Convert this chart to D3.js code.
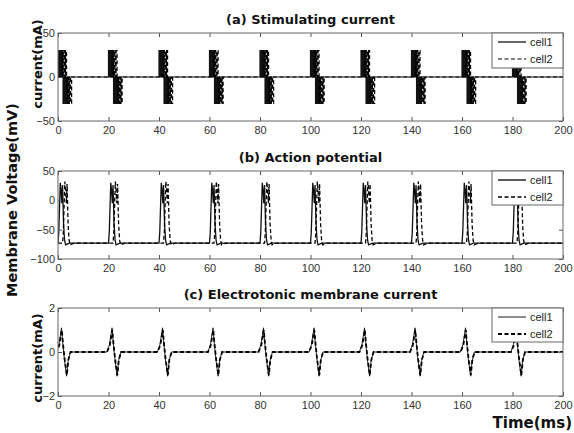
<!DOCTYPE html>
<html><head><meta charset="utf-8">
<script src="https://cdn.jsdelivr.net/npm/d3@7"></script>
<style>
html,body{margin:0;padding:0;background:#fff;}
svg{display:block;}
</style></head>
<body>
<svg id="c" width="574" height="433"></svg>
<script>
// ---------- data ----------
const onsets = [0, 20, 40, 60, 80, 100, 120, 140, 160, 180]; // ms, stimulus onset per beat
const xTicks = [0, 20, 40, 60, 80, 100, 120, 140, 160, 180, 200];
const seriesNames = ["cell1", "cell2"];

// (a) stimulating current pulse shape (time offset ms, current mA), step curve
const stimT1 = [0, 0.4, 0.5, 0.9, 1.0, 1.4, 1.5, 1.9, 2.0, 2.4, 2.5, 2.9, 3.0, 3.4, 3.5, 3.9, 4.0];
const stimV1 = [30, 0, 30, 0, 30, 0, 30, 0, -30, 0, -30, 0, -30, 0, -30, 0, 0];
const stimT2 = [1.5, 1.9, 2.0, 2.4, 2.5, 2.9, 3.0, 3.4, 3.5, 3.9, 4.0, 4.4, 4.5, 4.9, 5.0, 5.4, 5.5];
const stimV2 = [30, 0, 30, 0, 30, 0, 30, 0, -30, 0, -30, 0, -30, 0, -30, 0, 0];
const stimYTicks = [-50, 0, 50];

// (b) action potential shape (time offset ms, mV)
const restV = -73;
const apT1 = [0, 0.3, 0.9, 1.2, 1.5, 1.8, 2.2, 2.6, 3.0, 4.5];
const apV1 = [-73, -55, 30, 18, -5, 26, -40, -68, -76, -73];
const apT2 = [1.8, 2.1, 2.7, 3.0, 3.3, 3.6, 4.0, 4.4, 4.8, 6.3];
const apV2 = [-73, -55, 32, 18, -5, 28, -40, -68, -76, -73];
const apYTicks = [-100, -50, 0, 50];

// (c) electrotonic membrane current shape (time offset ms, mA)
const ecT1 = [-0.6, 0.4, 1.4, 1.9, 2.5, 3.4, 4.0, 4.9];
const ecV1 = [0, 0.35, 1.1, 0.4, -0.3, -1.1, -0.4, 0];
const ecT2 = [-0.6, 0.5, 1.5, 2.0, 2.6, 3.5, 4.1, 5.0];
const ecV2 = [0, 0.3, 1.0, 0.35, -0.3, -1.05, -0.35, 0];
const ecYTicks = [-2, 0, 2];

// ---------- build series ----------
function build(T, V, base) {
  const pts = [[0, base]];
  onsets.forEach(o => T.forEach((t, i) => pts.push([o + t, V[i]])));
  pts.push([200, base]);
  return pts;
}

const svg = d3.select("#c");
const x = d3.scaleLinear().domain([0, 200]).range([58, 563]);

const panels = [
  {title: "(a) Stimulating current", dom: [-50, 50], r: [121, 33], ticks: stimYTicks,
   s1: build(stimT1, stimV1, 0), s2: build(stimT2, stimV2, 0), curve: d3.curveStepAfter,
   w1: 1.2, w2: 1.2, leg: [33, 68]},
  {title: "(b) Action potential", dom: [-100, 50], r: [259, 171], ticks: apYTicks,
   s1: build(apT1, apV1, restV), s2: build(apT2, apV2, restV), curve: d3.curveLinear,
   w1: 1.3, w2: 1.3, leg: [171, 205]},
  {title: "(c) Electrotonic membrane current", dom: [-2, 2], r: [396, 308], ticks: ecYTicks,
   s1: build(ecT1, ecV1, 0), s2: build(ecT2, ecV2, 0), curve: d3.curveLinear,
   w1: 0.9, w2: 1.8, leg: [308, 342]}
];

const tickFont = "'Liberation Sans', Arial, sans-serif";
const boldFont = "'DejaVu Sans', sans-serif";

panels.forEach((p, k) => {
  const y = d3.scaleLinear().domain(p.dom).range(p.r);
  const g = svg.append("g");
  const top = p.r[1], bot = p.r[0];

  g.append("clipPath").attr("id", "clip" + k).append("rect")
    .attr("x", x(0)).attr("y", top).attr("width", x(200) - x(0)).attr("height", bot - top);

  // lines
  const line = d3.line().x(d => x(d[0])).y(d => y(d[1])).curve(p.curve);
  const lg = g.append("g").attr("clip-path", `url(#clip${k})`);
  lg.append("path").attr("d", line(p.s1)).attr("fill", "none")
    .attr("stroke", "#111").attr("stroke-width", p.w1);
  lg.append("path").attr("d", line(p.s2)).attr("fill", "none")
    .attr("stroke", "#000").attr("stroke-width", p.w2).attr("stroke-dasharray", "4,2.5");

  // axes
  const ax = (a) => a.tickSizeInner(-4).tickSizeOuter(0).tickPadding(5);
  const gb = g.append("g").attr("transform", `translate(0,${bot})`)
    .call(ax(d3.axisBottom(x).tickValues(xTicks).tickFormat(d3.format("d"))));
  const gt = g.append("g").attr("transform", `translate(0,${top})`)
    .call(ax(d3.axisTop(x).tickValues(xTicks).tickFormat("")));
  const gl = g.append("g").attr("transform", `translate(${x(0)},0)`)
    .call(ax(d3.axisLeft(y).tickValues(p.ticks).tickFormat(d3.format("d"))).tickPadding(3));
  const gr = g.append("g").attr("transform", `translate(${x(200)},0)`)
    .call(ax(d3.axisRight(y).tickValues(p.ticks).tickFormat("")));
  [gb, gt, gl, gr].forEach(a => {
    a.select(".domain").remove();
    a.selectAll(".tick line").attr("stroke", "#555");
    a.selectAll(".tick text").attr("font-family", tickFont).attr("font-size", 11).attr("fill", "#333");
  });
  g.append("rect").attr("x", x(0)).attr("y", top).attr("width", x(200) - x(0)).attr("height", bot - top)
    .attr("fill", "none").attr("stroke", "#666").attr("stroke-width", 1);

  // title
  g.append("text").attr("x", (x(0) + x(200)) / 2).attr("y", top - 9)
    .attr("text-anchor", "middle").attr("font-family", boldFont).attr("font-weight", "bold")
    .attr("font-size", 13).attr("fill", "#111").text(p.title);

  // legend
  const lx0 = 492, lx1 = x(200), ly0 = p.leg[0], ly1 = p.leg[1];
  const leg = g.append("g");
  leg.append("rect").attr("x", lx0).attr("y", ly0).attr("width", lx1 - lx0).attr("height", ly1 - ly0)
    .attr("fill", "#fff").attr("stroke", "#666").attr("stroke-width", 1);
  seriesNames.forEach((n, i) => {
    const yy = ly0 + 9 + i * 17;
    leg.append("line").attr("x1", 498).attr("x2", 526).attr("y1", yy).attr("y2", yy)
      .attr("stroke", "#000").attr("stroke-width", i === 0 ? p.w1 : p.w2)
      .attr("stroke-dasharray", i === 0 ? null : "4,2.5");
    leg.append("text").attr("x", 530).attr("y", yy + 4).attr("font-family", tickFont)
      .attr("font-size", 11).attr("fill", "#222").text(n);
  });
});

// axis labels
function vlabel(txt, cx, cy, size) {
  svg.append("text").attr("transform", `translate(${cx},${cy}) rotate(-90)`)
    .attr("text-anchor", "middle").attr("font-family", boldFont).attr("font-weight", "bold")
    .attr("font-size", size).attr("fill", "#111").text(txt);
}
vlabel("current(mA)", 42, 64, 13);
vlabel("Membrane Voltage(mV)", 17, 200, 14.5);
vlabel("current(mA)", 42, 358, 13);

svg.append("text").attr("x", 572).attr("y", 428).attr("text-anchor", "end")
  .attr("font-family", boldFont).attr("font-weight", "bold").attr("font-size", 15)
  .attr("fill", "#111").text("Time(ms)");
</script>
</body></html>
